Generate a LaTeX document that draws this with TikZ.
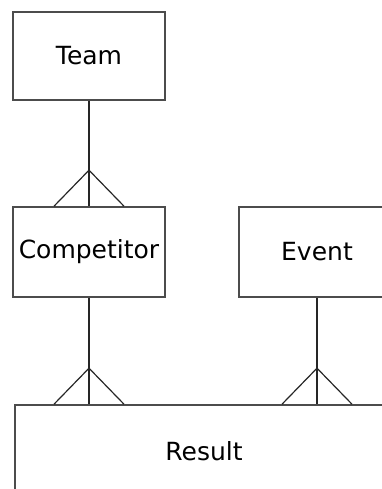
\documentclass[tikz,border=0pt]{standalone}
\usepackage{fontspec}
\setmainfont{DejaVu Sans}
\usetikzlibrary{positioning,calc}

\begin{document}
\begin{tikzpicture}[x=1pt, y=1pt,
  entity/.style={draw=black!70, line width=1.6pt, rectangle, inner sep=2pt, minimum width=152pt, minimum height=90pt, font=\fontsize{25}{30}\selectfont},
  rel/.style={draw=black!85, line width=1.2pt}]
\useasboundingbox (0,0) rectangle (382,489);
\clip (0,0) rectangle (382,489);

% Team
\node[entity, minimum height=88pt] (team) at (89,433) {Team};

% Competitor, Event
\node[entity] (competitor) at (89,237) {Competitor};
\node[entity, minimum width=156pt] (event) at (317,237) {Event};

% Result
\node[entity, minimum width=378pt, minimum height=92pt] (result) at (204,38) {Result};

% crow's feet
\foreach \one/\many in {team/competitor, competitor/result, event/result} {
  \coordinate (foot) at (\one.south |- \many.north);
  \draw[rel] (\one.south) -- (foot);
  \draw[rel] ($(foot)+(-35,0)$) -- ($(foot)+(0,36)$) -- ($(foot)+(35,0)$);
}
\end{tikzpicture}
\end{document}
